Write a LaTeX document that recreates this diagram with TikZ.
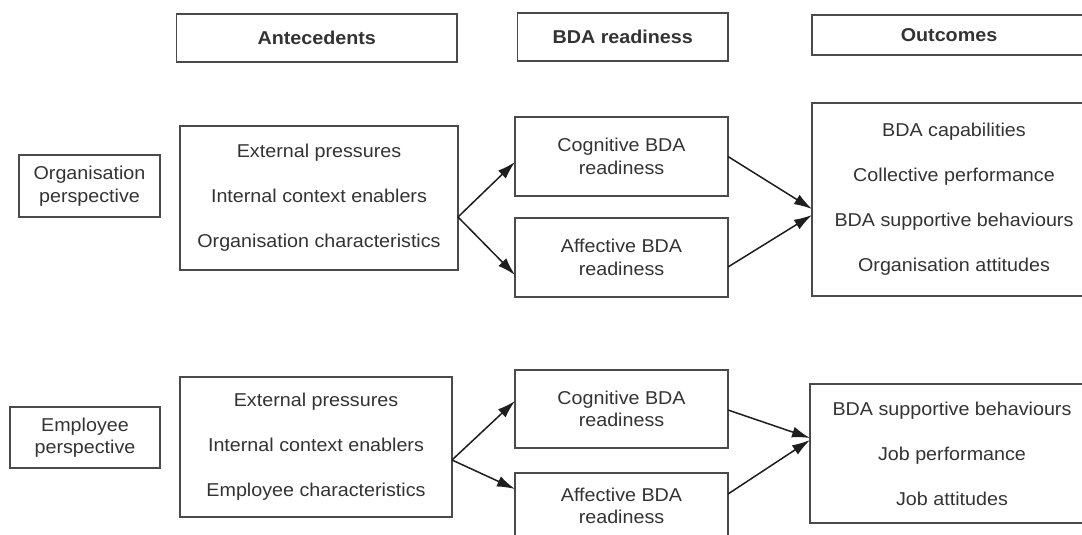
\documentclass[tikz,border=0pt]{standalone}
\usepackage{fontspec}
\setmainfont{Liberation Sans}[FakeStretch=1.06]
\usetikzlibrary{arrows.meta}
\definecolor{edge}{HTML}{4A4A4A}
\definecolor{ink}{HTML}{333333}
\definecolor{arrowc}{HTML}{1E1E1E}
\tikzset{
  box/.style={draw=edge, line width=1.8pt, rectangle, inner sep=0pt, outer sep=0pt,
    text=ink, align=center, font=\fontsize{18.6}{22.5}\selectfont},
  listbox/.style={box, font=\fontsize{18.6}{45}\selectfont},
  headbox/.style={box, font=\fontsize{18.6}{22.5}\selectfont\bfseries},
  arr/.style={draw=arrowc, line width=1.5pt, -{Latex[length=18pt,width=11pt]}},
}
\begin{document}
\begin{tikzpicture}[x=1pt, y=-1pt]
\clip (0,0) rectangle (1082,535);
\fill[white] (0,0) rectangle (1082,535);

% column headings
\node[headbox, minimum width=280.5pt, minimum height=48pt] (hAnt) at (316.75,38) {Antecedents};
\node[headbox, minimum width=210.5pt, minimum height=48pt] (hBDA) at (622.75,37) {BDA readiness};
\node[headbox, minimum width=274pt, minimum height=40pt] (hOut) at (949,35) {Outcomes};

% organisation level
\node[box, minimum width=141pt, minimum height=62pt] (pOrg) at (89.5,186) {Organisation\\perspective};
\node[listbox, minimum width=278pt, minimum height=144pt] (aOrg) at (319,198)
  {External pressures\\Internal context enablers\\Organisation characteristics};
\node[box, minimum width=213pt, minimum height=79pt] (cOrg) at (621.5,156.5) {Cognitive BDA\\readiness};
\node[box, minimum width=213pt, minimum height=79pt] (fOrg) at (621.5,257.5) {Affective BDA\\readiness};
\node[listbox, minimum width=284pt, minimum height=193pt] (oOrg) at (954,199.5)
  {BDA capabilities\\Collective performance\\BDA supportive behaviours\\Organisation attitudes};

% employee level
\node[box, minimum width=150pt, minimum height=61pt] (pEmp) at (85,437.5) {Employee\\perspective};
\node[listbox, minimum width=272pt, minimum height=140pt] (aEmp) at (316,447)
  {External pressures\\Internal context enablers\\Employee characteristics};
\node[box, minimum width=213pt, minimum height=78pt] (cEmp) at (621.5,409) {Cognitive BDA\\readiness};
\node[box, minimum width=213pt, minimum height=66pt] (fEmp) at (621.5,506) {Affective BDA\\readiness};
\node[listbox, minimum width=284pt, minimum height=139pt] (oEmp) at (952,453.5)
  {BDA supportive behaviours\\Job performance\\Job attitudes};

% organisation arrows
\draw[arr] ([yshift=-19pt]aOrg.east) -- ([yshift=-5.5pt]cOrg.west);
\draw[arr] ([yshift=-19pt]aOrg.east) -- ([yshift=-17.5pt]fOrg.west);
\draw[arr] ([yshift=0pt]cOrg.east) -- ([yshift=-9.5pt]oOrg.west);
\draw[arr] ([yshift=-9.5pt]fOrg.east) -- ([yshift=-15.5pt]oOrg.west);

% employee arrows
\draw[arr] ([yshift=-13pt]aEmp.east) -- ([yshift=8pt]cEmp.west);
\draw[arr] ([yshift=-13pt]aEmp.east) -- ([yshift=17pt]fEmp.west);
\draw[arr] ([yshift=-1pt]cEmp.east) -- ([yshift=15.5pt]oEmp.west);
\draw[arr] ([yshift=12pt]fEmp.east) -- ([yshift=13.5pt]oEmp.west);
\end{tikzpicture}
\end{document}
